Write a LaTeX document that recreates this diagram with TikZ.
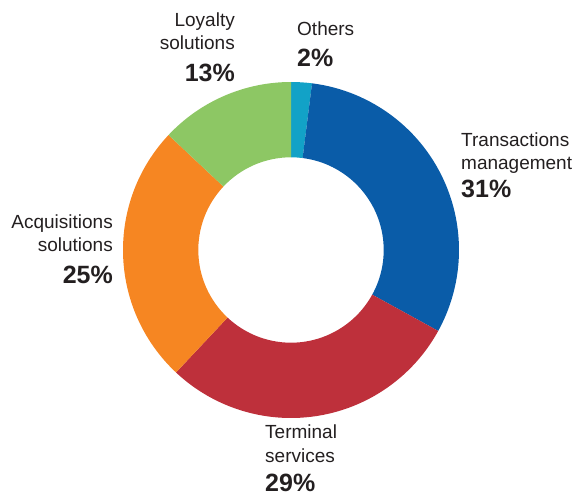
\documentclass[tikz,border=0pt]{standalone}
\usepackage{fontspec}
\setmainfont{Liberation Sans}
\usetikzlibrary{positioning,calc}
\definecolor{others}{RGB}{18, 162, 199}
\definecolor{trans}{RGB}{10, 92, 168}
\definecolor{term}{RGB}{190, 48, 59}
\definecolor{acq}{RGB}{246, 134, 34}
\definecolor{loyal}{RGB}{141, 199, 100}
\definecolor{ink}{RGB}{35, 31, 32}
\tikzset{
  lname/.style = {inner sep=0pt, text=ink, font=\fontsize{19}{23.5}\selectfont},
  lpct/.style  = {inner sep=0pt, text=ink, font=\fontsize{25}{30}\selectfont\bfseries},
}

\begin{document}
\begin{tikzpicture}[x=1pt, y=1pt]
\useasboundingbox (0,0) rectangle (581,496);

% ring =============================
\coordinate (c) at (291,246);
\foreach \a/\b/\col in {90/82.8/others, 82.8/-28.8/trans, -28.8/-133.2/term, -133.2/-223.2/acq, 136.8/90/loyal}
  \fill[\col] ($(c)+(\a:168)$) arc[start angle=\a, end angle=\b, radius=168]
    -- ($(c)+(\b:92.7)$) arc[start angle=\b, end angle=\a, radius=92.7] -- cycle;

% labels =============================
\node[lname, align=right, anchor=base east] (loyname) at (235,446) {Loyalty\\solutions};
\node[lpct, anchor=base east] (loypct) at (235,414) {13\%};

\node[lname, anchor=base west] (othname) at (297,460) {Others};
\node[lpct, anchor=base west] (othpct) at (297,429) {2\%};

\node[lname, align=left, anchor=base west] (trname) at (461,326) {Transactions\\management};
\node[lpct, anchor=base west] (trpct) at (461,298) {31\%};

\node[lname, align=right, anchor=base east] (acqname) at (113,244) {Acquisitions\\solutions};
\node[lpct, anchor=base east] (acqpct) at (113,212) {25\%};

\node[lname, align=left, anchor=base west] (tername) at (265,34) {Terminal\\services};
\node[lpct, anchor=base west] (terpct) at (265,5) {29\%};

\end{tikzpicture}
\end{document}
